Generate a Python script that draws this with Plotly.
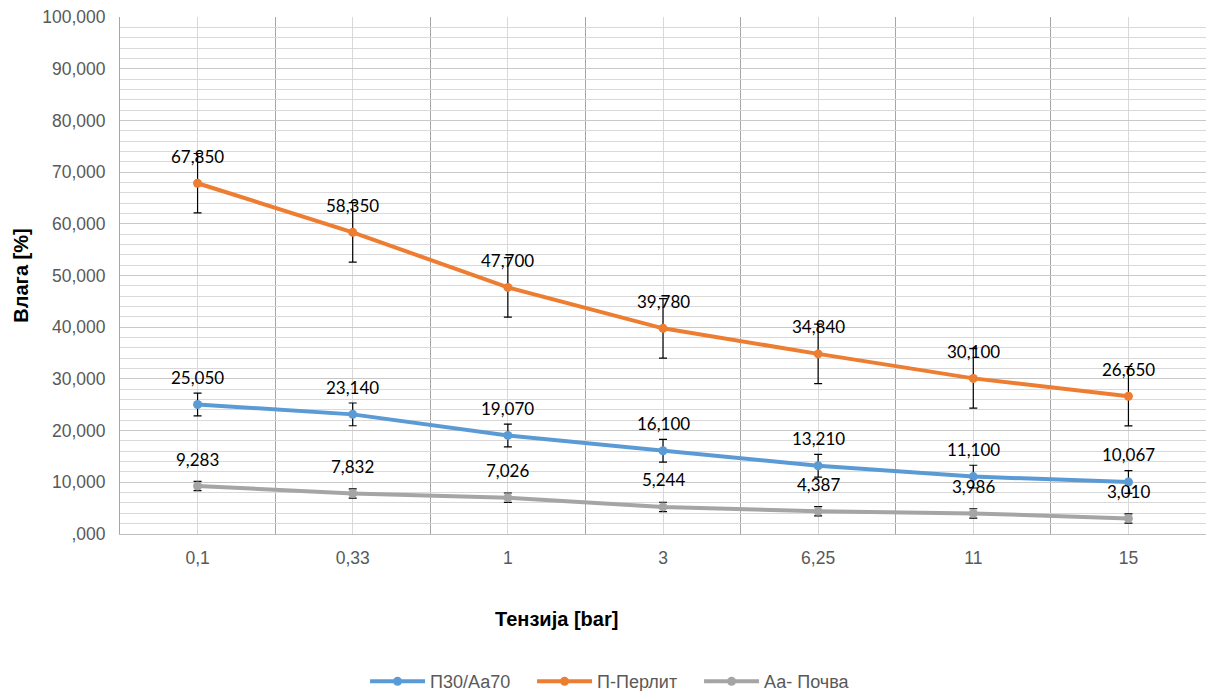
import plotly.graph_objects as go

categories = ["0,1", "0,33", "1", "3", "6,25", "11", "15"]
p30_aa70 = [25.050, 23.140, 19.070, 16.100, 13.210, 11.100, 10.067]
p_perlit = [67.850, 58.350, 47.700, 39.780, 34.840, 30.100, 26.650]
aa_pochva = [9.283, 7.832, 7.026, 5.244, 4.387, 3.986, 3.010]
err_p30 = [2.2] * 7
err_perlit = [5.75] * 7
err_pochva = [0.9] * 7
series_names = ["П30/Аа70", "П-Перлит", "Аа- Почва"]
colors = ["#5b9bd5", "#ed7d31", "#a5a5a5"]
y_ticks = [0, 10, 20, 30, 40, 50, 60, 70, 80, 90, 100]
y_ticktext = [",000", "10,000", "20,000", "30,000", "40,000", "50,000",
              "60,000", "70,000", "80,000", "90,000", "100,000"]

xs = list(range(len(categories)))

def fmt(v):
    return f"{v:.3f}".replace(".", ",")

fig = go.Figure()
for name, vals, errs, col in zip(series_names, [p30_aa70, p_perlit, aa_pochva],
                                 [err_p30, err_perlit, err_pochva], colors):
    fig.add_trace(go.Scatter(
        x=xs, y=vals, name=name, mode="lines+markers",
        line=dict(color=col, width=4), marker=dict(color=col, size=9),
        error_y=dict(type="data", array=errs, visible=True, color="black",
                     thickness=1.2, width=4),
    ))
    for x, v in zip(xs, vals):
        fig.add_annotation(x=x, y=v, text=fmt(v), showarrow=False, yshift=27,
                           font=dict(family="Lato", size=17, color="black"))

fig.add_annotation(xref="paper", yref="paper", x=0.402, y=-0.164, text="<b>Тензија [bar]</b>",
                   showarrow=False, font=dict(family="Liberation Sans", size=20, color="black"),
                   yanchor="middle", xanchor="center")

fig.update_xaxes(
    range=[-0.5, 6.5], tickmode="array", tickvals=xs, ticktext=categories,
    showgrid=True, gridcolor="#d9d9d9", gridwidth=1,
    minor=dict(tickmode="linear", tick0=-0.5, dtick=1, showgrid=True, gridcolor="#a6a6a6", gridwidth=1),
    showline=True, linecolor="#bfbfbf", linewidth=1, ticks="",
    tickfont=dict(family="Liberation Sans", size=17.5, color="#595959"),
    zeroline=False, ticklabelstandoff=8,
)
fig.update_yaxes(
    range=[0, 100], tickmode="array", tickvals=y_ticks, ticktext=y_ticktext,
    showgrid=True, gridcolor="#c8c8c8", gridwidth=1,
    minor=dict(tickmode="linear", tick0=0, dtick=2, showgrid=True, gridcolor="#d9d9d9", gridwidth=1),
    showline=True, linecolor="#a6a6a6", linewidth=1, zeroline=False,
    tickfont=dict(family="Liberation Sans", size=17.5, color="#595959"),
    ticklabelstandoff=10,
    title=dict(text="<b>Влага [%]</b>", font=dict(family="Liberation Sans", size=20, color="black"),
               standoff=8),
)

fig.update_layout(
    width=1206, height=691, autosize=False,
    margin=dict(l=120, r=0, t=17, b=157, autoexpand=False),
    paper_bgcolor="white", plot_bgcolor="white",
    showlegend=True,
    legend=dict(orientation="h", xref="container", yref="container", x=0.3027, y=0.0135,
                xanchor="left", yanchor="middle", itemwidth=55, entrywidth=97,
                font=dict(family="Liberation Sans", size=18, color="#595959")),
)

fig.write_html("out.html", config={"displayModeBar": False},
               post_script="document.body.style.margin='0';document.body.style.overflow='hidden';")
